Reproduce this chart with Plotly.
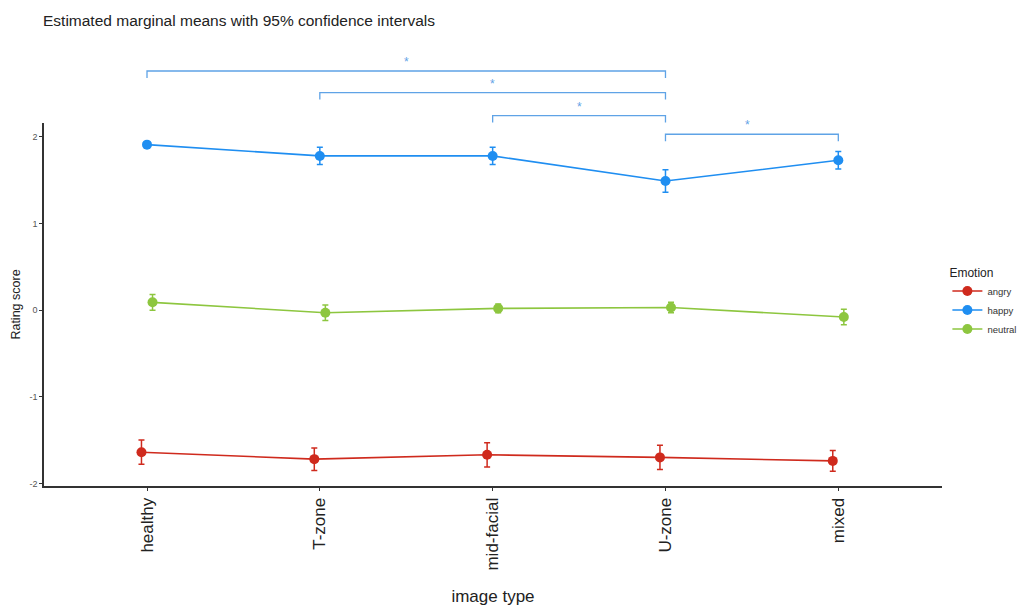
import plotly.graph_objects as go

# Image types on the x axis
image_types = ["healthy", "T-zone", "mid-facial", "U-zone", "mixed"]

# Estimated marginal means and 95% CI half-widths per emotion
angry_mean = [-1.64, -1.72, -1.67, -1.70, -1.74]
angry_ci = [0.14, 0.13, 0.14, 0.14, 0.12]
happy_mean = [1.91, 1.78, 1.78, 1.49, 1.73]
happy_ci = [0.03, 0.10, 0.10, 0.13, 0.10]
neutral_mean = [0.09, -0.03, 0.02, 0.03, -0.08]
neutral_ci = [0.09, 0.09, 0.05, 0.06, 0.09]

# Pairwise comparisons (happy) flagged as significant, with bracket heights
sig_pairs = [("healthy", "U-zone"), ("T-zone", "U-zone"),
             ("mid-facial", "U-zone"), ("U-zone", "mixed")]
sig_levels = [2.76, 2.51, 2.245, 2.03]
sig_labels = ["*", "*", "*", "*"]

series = [
    ("angry", angry_mean, angry_ci, "#cf2a1d", -0.032),
    ("happy", happy_mean, happy_ci, "#1f8ef1", 0.0),
    ("neutral", neutral_mean, neutral_ci, "#8dc63f", 0.032),
]

x_range = [-0.596, 4.60]
y_range = [-2.03, 2.16]
bracket_color = "#5fa3e6"
tip = 0.08

fig = go.Figure()
for name, mean, ci, color, dodge in series:
    xs = [i + dodge for i in range(len(image_types))]
    fig.add_trace(go.Scatter(
        x=xs, y=mean, name=name, mode="lines+markers",
        line=dict(color=color, width=1.6),
        marker=dict(color=color, size=10),
        error_y=dict(type="data", array=ci, visible=True,
                     color=color, thickness=1.5, width=3),
    ))


def px_x(v):
    return (v - x_range[0]) / (x_range[1] - x_range[0])


def px_y(v):
    return (v - y_range[0]) / (y_range[1] - y_range[0])


shapes = []
annotations = []
for (a, b), lvl, lab in zip(sig_pairs, sig_levels, sig_labels):
    xa = px_x(image_types.index(a))
    xb = px_x(image_types.index(b))
    yt = px_y(lvl)
    yb = px_y(lvl - tip)
    shapes.append(dict(type="path", xref="paper", yref="paper",
                       path=f"M {xa},{yb} L {xa},{yt} L {xb},{yt} L {xb},{yb}",
                       line=dict(color=bracket_color, width=1.3)))
    annotations.append(dict(xref="paper", yref="paper",
                            x=(xa + xb) / 2, y=px_y(lvl), yanchor="bottom",
                            text=lab, showarrow=False,
                            font=dict(size=12, color=bracket_color)))

fig.update_layout(
    width=1021, height=606,
    margin=dict(l=44, r=79, t=123, b=120, autoexpand=False),
    paper_bgcolor="white", plot_bgcolor="white",
    font=dict(family="Liberation Sans, Arial, sans-serif", color="#222222"),
    title=dict(text="Estimated marginal means with 95% confidence intervals",
               xref="container", yref="container",
               x=43 / 1021, y=1 - 21 / 606, xanchor="left", yanchor="middle",
               font=dict(size=15.5, color="#222222")),
    showlegend=True,
    legend=dict(title=dict(text="Emotion", font=dict(size=12, color="#222222")),
                x=1.006, xanchor="left", y=0.62, yanchor="top",
                font=dict(size=9.5, color="#333333"),
                itemwidth=30, bgcolor="rgba(0,0,0,0)"),
    shapes=shapes,
    annotations=annotations,
)

fig.update_xaxes(
    range=x_range, tickmode="array",
    tickvals=list(range(len(image_types))), ticktext=image_types,
    tickangle=-90, tickfont=dict(size=17, color="#222222"),
    ticks="outside", ticklen=3, tickcolor="#333333",
    showline=True, linecolor="#333333", linewidth=2,
    showgrid=False, zeroline=False,
    title=dict(text="image type", font=dict(size=17, color="#222222"), standoff=22),
)
fig.update_yaxes(
    range=y_range, tickvals=[-2, -1, 0, 1, 2], ticktext=["-2", "-1", "0", "1", "2"],
    tickfont=dict(size=9, color="#555555"),
    ticks="outside", ticklen=3, tickcolor="#333333",
    showline=True, linecolor="#333333", linewidth=1.5,
    showgrid=False, zeroline=False,
    title=dict(text="Rating score", font=dict(size=12.5, color="#222222"), standoff=6),
)

fig.write_html("out.html")
